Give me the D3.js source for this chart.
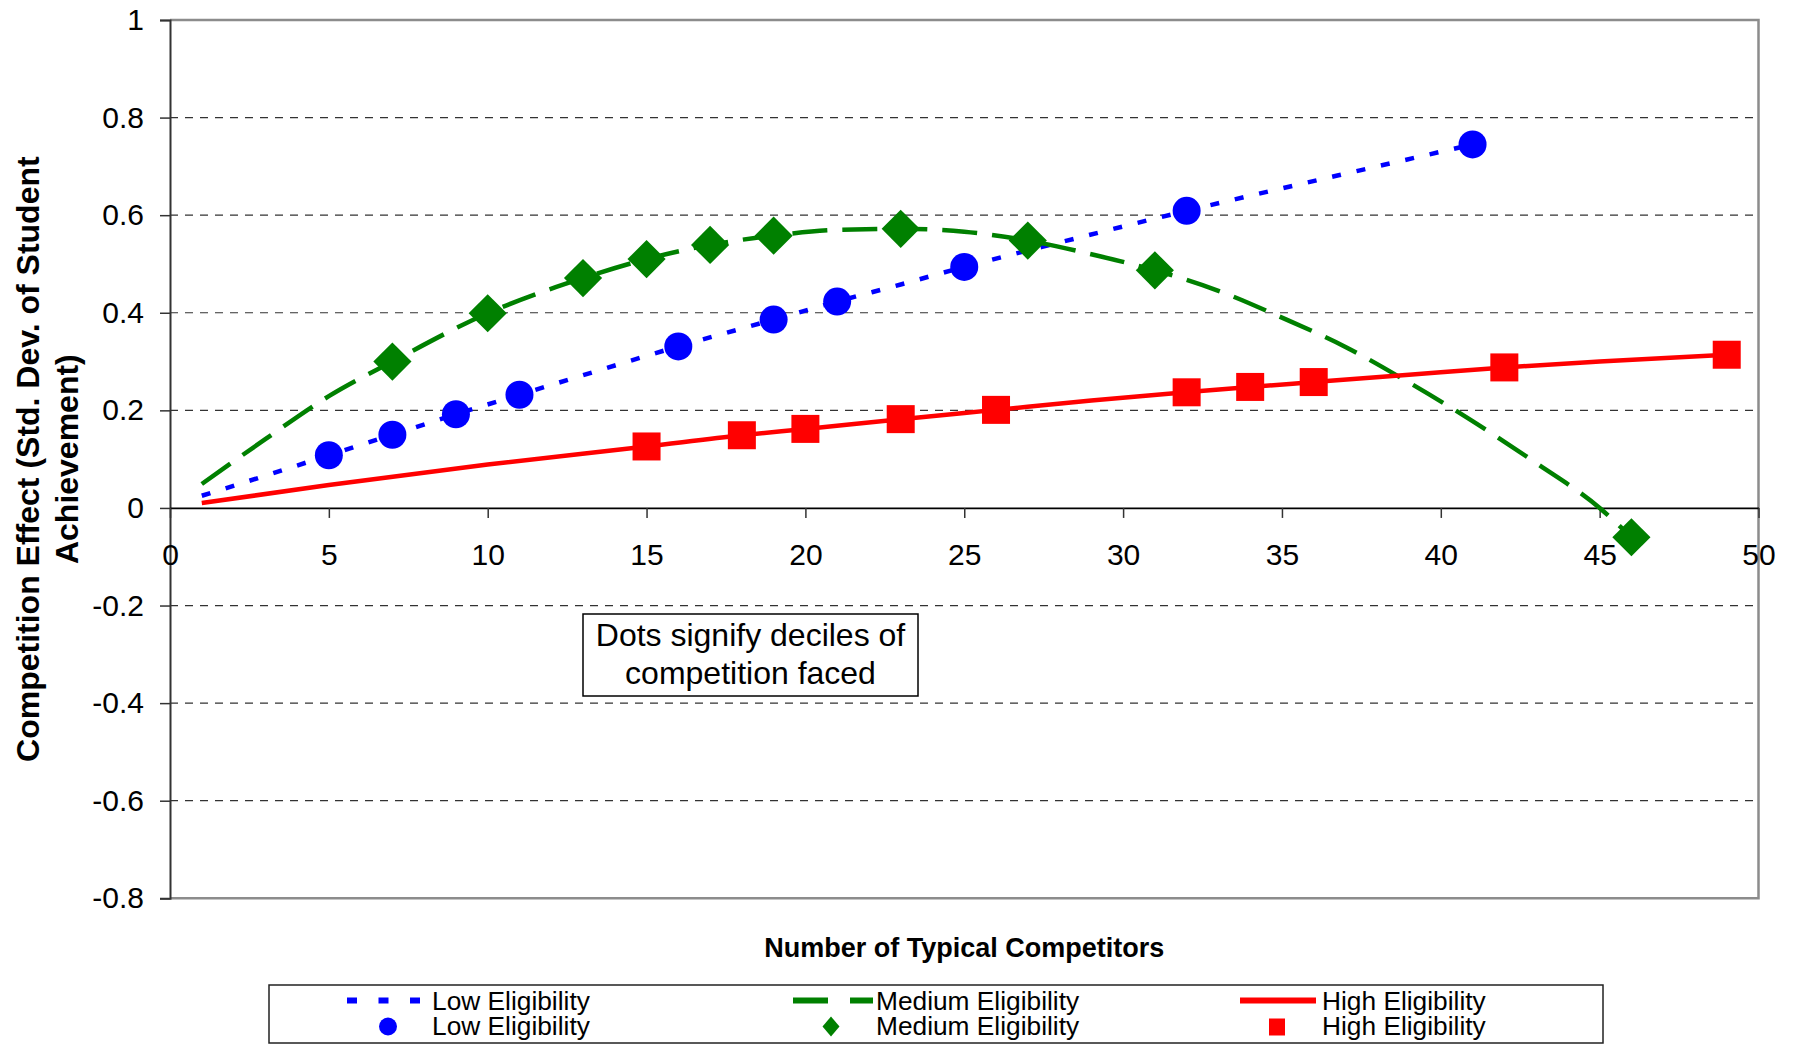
<!DOCTYPE html>
<html>
<head>
<meta charset="utf-8">
<script src="https://cdn.jsdelivr.net/npm/d3@7"></script>
<style>
  body { margin: 0; background: #fff; }
  text { font-family: "Liberation Sans", Arial, sans-serif; }
</style>
</head>
<body>
<div id="container"></div>
<script>
// canvas
let width = 1797;
let height = 1050;
let margin = { top: 20, right: 38, bottom: 152, left: 170 };

// data
// fitted lines
let lowLineX = [1, 3, 5, 7, 9, 11, 13, 16, 19, 21, 23, 25, 28, 32, 35, 38, 41];
let lowLineY = [0.025, 0.066, 0.108, 0.150, 0.192, 0.232, 0.272, 0.331, 0.386, 0.423, 0.458, 0.494, 0.544, 0.609, 0.655, 0.700, 0.745];
let medLineX = [1, 3, 5, 7, 10, 13, 15, 17, 19, 21, 23, 25, 27, 29, 31, 33, 35, 37, 39, 41, 43, 45, 46];
let medLineY = [0.049, 0.141, 0.229, 0.300, 0.399, 0.471, 0.510, 0.539, 0.558, 0.570, 0.572, 0.566, 0.548, 0.520, 0.487, 0.445, 0.390, 0.330, 0.257, 0.178, 0.092, 0.000, -0.060];
let highLineX = [1, 5, 10, 15, 18, 20, 23, 26, 29, 32, 34, 36, 39, 42, 45, 49];
let highLineY = [0.010, 0.047, 0.089, 0.126, 0.149, 0.162, 0.182, 0.201, 0.220, 0.237, 0.248, 0.258, 0.273, 0.288, 0.300, 0.314];

// decile dots
let lowX = [5, 7, 9, 11, 16, 19, 21, 25, 32, 41];
let lowY = [0.108, 0.150, 0.192, 0.232, 0.331, 0.386, 0.423, 0.494, 0.609, 0.745];
let medX = [7, 10, 13, 15, 17, 19, 23, 27, 31, 46];
let medY = [0.300, 0.399, 0.471, 0.510, 0.539, 0.558, 0.572, 0.548, 0.487, -0.060];
let highX = [15, 18, 20, 23, 26, 32, 34, 36, 42, 49];
let highY = [0.126, 0.149, 0.162, 0.182, 0.201, 0.237, 0.248, 0.258, 0.288, 0.314];

let xTicks = [0, 5, 10, 15, 20, 25, 30, 35, 40, 45, 50];
let yTicks = [1, 0.8, 0.6, 0.4, 0.2, 0, -0.2, -0.4, -0.6, -0.8];
let gridTicks = [0.8, 0.6, 0.4, 0.2, -0.2, -0.4, -0.6];

let legendNames = ['Low Eligibility', 'Medium Eligibility', 'High Eligibility'];
let colors = ['#0000ff', '#008000', '#ff0000'];

let svg = d3.create('svg').attr('width', width).attr('height', height);

let x = d3.scaleLinear().domain([0, 50]).range([margin.left, width - margin.right - 0.5]);
let y = d3.scaleLinear().domain([-0.8, 1]).range([height - margin.bottom + 0.3, margin.top]);

let zip = (xs, ys) => xs.map((d, i) => [d, ys[i]]);

// gridlines
svg.selectAll('.grid')
  .data(gridTicks)
  .enter()
  .append('line')
  .attr('x1', x(0))
  .attr('x2', x(50))
  .attr('y1', d => y(d))
  .attr('y2', d => y(d))
  .attr('stroke', '#333')
  .attr('stroke-width', 1.2)
  .attr('stroke-dasharray', '8,7');

// plot frame (top, right, bottom)
svg.append('path')
  .attr('d', `M${x(0)},${y(1)}H${x(50)}V${y(-0.8)}H${x(0)}`)
  .attr('fill', 'none')
  .attr('stroke', '#8c8c8c')
  .attr('stroke-width', 2.5);

// y axis
let yAxis = d3.axisLeft(y)
  .tickValues(yTicks)
  .tickSize(10)
  .tickPadding(16)
  .tickFormat(d => String(+d.toFixed(1)));
let gy = svg.append('g').attr('transform', `translate(${x(0)},0)`).call(yAxis);
gy.select('.domain').attr('stroke', '#333').attr('stroke-width', 2);
gy.selectAll('.tick line').attr('stroke', '#333').attr('stroke-width', 1.5);
gy.selectAll('.tick text').attr('font-size', 30).attr('fill', '#000')
  .attr('font-family', '"Liberation Sans", Arial, sans-serif');

// x axis on the zero line
let xAxis = d3.axisBottom(x)
  .tickValues(xTicks)
  .tickSize(10)
  .tickSizeOuter(0)
  .tickPadding(26);
let gx = svg.append('g').attr('transform', `translate(0,${y(0)})`).call(xAxis);
gx.select('.domain').attr('stroke', '#000').attr('stroke-width', 1.8);
gx.selectAll('.tick line').attr('stroke', '#333').attr('stroke-width', 1.5);
gx.selectAll('.tick text').attr('font-size', 30).attr('fill', '#000')
  .attr('font-family', '"Liberation Sans", Arial, sans-serif');

// axis titles
let midY = (y(1) + y(-0.8)) / 2;
svg.append('text')
  .attr('transform', `translate(38.5,${midY}) rotate(-90)`)
  .attr('text-anchor', 'middle')
  .attr('font-size', 32)
  .attr('font-weight', 'bold')
  .text('Competition Effect (Std. Dev. of Student');
svg.append('text')
  .attr('transform', `translate(77.5,${midY}) rotate(-90)`)
  .attr('text-anchor', 'middle')
  .attr('font-size', 32)
  .attr('font-weight', 'bold')
  .text('Achievement)');
svg.append('text')
  .attr('x', (x(0) + x(50)) / 2)
  .attr('y', 957)
  .attr('text-anchor', 'middle')
  .attr('font-size', 27)
  .attr('font-weight', 'bold')
  .text('Number of Typical Competitors');

// lines
let line = d3.line().x(d => x(d[0])).y(d => y(d[1])).curve(d3.curveMonotoneX);
let lineSets = [
  { pts: zip(lowLineX, lowLineY), color: colors[0], dash: '9,16' },
  { pts: zip(medLineX, medLineY), color: colors[1], dash: '35,15' },
  { pts: zip(highLineX, highLineY), color: colors[2], dash: null }
];
svg.selectAll('.series-line')
  .data(lineSets)
  .enter()
  .append('path')
  .attr('d', d => line(d.pts))
  .attr('fill', 'none')
  .attr('stroke', d => d.color)
  .attr('stroke-width', 4.5)
  .attr('stroke-dasharray', d => d.dash);

// markers
svg.selectAll('.low-dot')
  .data(zip(lowX, lowY))
  .enter()
  .append('circle')
  .attr('cx', d => x(d[0]))
  .attr('cy', d => y(d[1]))
  .attr('r', 14)
  .attr('fill', colors[0]);

let diamond = d3.symbol().type(d3.symbolSquare).size(27 * 27);
svg.selectAll('.med-dot')
  .data(zip(medX, medY))
  .enter()
  .append('path')
  .attr('d', diamond)
  .attr('transform', d => `translate(${x(d[0])},${y(d[1])}) rotate(45)`)
  .attr('fill', colors[1]);

svg.selectAll('.high-dot')
  .data(zip(highX, highY))
  .enter()
  .append('rect')
  .attr('x', d => x(d[0]) - 14)
  .attr('y', d => y(d[1]) - 14)
  .attr('width', 28)
  .attr('height', 28)
  .attr('fill', colors[2]);

// annotation
svg.append('rect')
  .attr('x', 583)
  .attr('y', 614)
  .attr('width', 335)
  .attr('height', 82)
  .attr('fill', '#fff')
  .attr('stroke', '#000')
  .attr('stroke-width', 1.5);
svg.append('text')
  .attr('x', 750.5).attr('y', 646)
  .attr('text-anchor', 'middle')
  .attr('font-size', 32)
  .text('Dots signify deciles of');
svg.append('text')
  .attr('x', 750.5).attr('y', 684)
  .attr('text-anchor', 'middle')
  .attr('font-size', 32)
  .text('competition faced');

// legend
svg.append('rect')
  .attr('x', 269)
  .attr('y', 985)
  .attr('width', 1334)
  .attr('height', 58)
  .attr('fill', '#fff')
  .attr('stroke', '#222')
  .attr('stroke-width', 1.5);

let legendCols = [
  { line: [347, 420], text: 432, mark: 388, dash: '10,21.5' },
  { line: [793, 873], text: 876, mark: 831, dash: '35,22' },
  { line: [1240, 1316], text: 1322, mark: 1277, dash: null }
];
let legend = svg.selectAll('.legend-col')
  .data(legendCols)
  .enter()
  .append('g');

legend.append('line')
  .attr('x1', d => d.line[0])
  .attr('x2', d => d.line[1])
  .attr('y1', 1000.5)
  .attr('y2', 1000.5)
  .attr('stroke', (d, i) => colors[i])
  .attr('stroke-width', 6)
  .attr('stroke-dasharray', d => d.dash);

legend.append('text')
  .attr('x', d => d.text)
  .attr('y', 1010)
  .attr('font-size', 26.3)
  .text((d, i) => legendNames[i]);
legend.append('text')
  .attr('x', d => d.text)
  .attr('y', 1035)
  .attr('font-size', 26.3)
  .text((d, i) => legendNames[i]);

legend.filter((d, i) => i === 0)
  .append('circle')
  .attr('cx', d => d.mark)
  .attr('cy', 1026.5)
  .attr('r', 9)
  .attr('fill', colors[0]);
legend.filter((d, i) => i === 1)
  .append('path')
  .attr('d', d => `M${d.mark},1016.5L${d.mark + 8.5},1026.5L${d.mark},1036.5L${d.mark - 8.5},1026.5Z`)
  .attr('fill', colors[1]);
legend.filter((d, i) => i === 2)
  .append('rect')
  .attr('x', d => d.mark - 8)
  .attr('y', 1018.5)
  .attr('width', 16)
  .attr('height', 17)
  .attr('fill', colors[2]);

d3.select('#container').append(() => svg.node());
</script>
</body>
</html>
